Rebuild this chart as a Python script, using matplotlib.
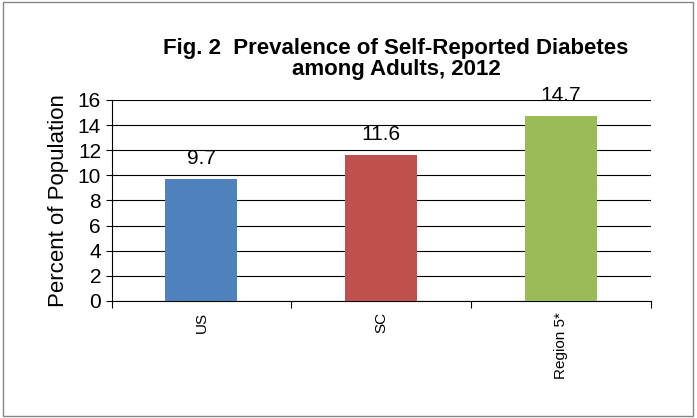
import matplotlib.pyplot as plt
from matplotlib.patches import Rectangle

plt.rcParams['font.family'] = ['Liberation Sans', 'DejaVu Sans']

categories = ["US", "SC", "Region 5*"]
values = [9.7, 11.6, 14.7]
colors = ["#4F81BD", "#C0504D", "#9BBB59"]

fig = plt.figure(figsize=(6.97, 4.18), dpi=100)
fig.patches.append(Rectangle((0.004, 0.005), 0.99, 0.99, transform=fig.transFigure,
                             fill=False, edgecolor="#868686", linewidth=1))
ax = fig.add_axes([0.160, 0.280, 0.774, 0.481])

x = range(len(categories))
bars = ax.bar(x, values, width=0.40, color=colors, zorder=3)
for xi, v in zip(x, values):
    ax.text(xi, v + 0.9, f"{v}", ha="center", va="bottom", fontsize=15)

ax.set_xlim(-0.5, 2.5)
ax.set_ylim(0, 16)
ax.set_yticks(range(0, 17, 2))
ax.tick_params(axis="y", labelsize=15, length=4)
ax.set_xticks([-0.5, 0.5, 1.5, 2.5], minor=False)
ax.set_xticklabels([])
ax.set_xticks(list(x), minor=True)
ax.set_xticklabels(categories, minor=True, rotation=90, fontsize=11)
ax.tick_params(axis="x", which="major", length=5, direction="out")
ax.tick_params(axis="x", which="minor", length=0, pad=8)
ax.grid(axis="y", color="black", linewidth=0.8, zorder=0)
for s in ["top", "right"]:
    ax.spines[s].set_visible(False)
ax.set_ylabel("Percent of Population", fontsize=16, labelpad=6)

fig.text(0.568, 0.86, "Fig. 2  Prevalence of Self-Reported Diabetes\namong Adults, 2012",
         ha="center", va="center", fontsize=16, fontweight="bold", linespacing=1.0)

fig.savefig("out.png", dpi=100)
